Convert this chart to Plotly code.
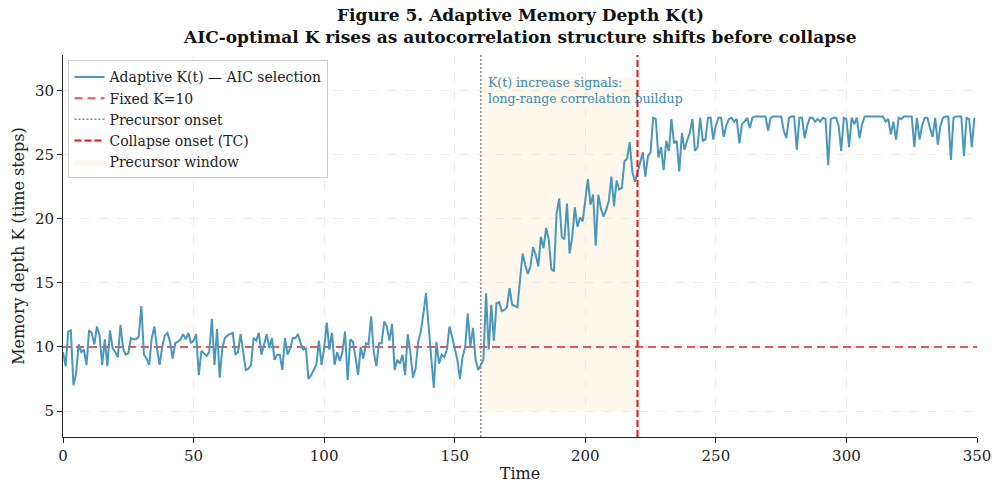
import plotly.graph_objects as go

# ---- data ----
k_part1 = [9.6, 8.5, 11.2, 11.3, 7.0, 7.9, 10.2, 9.6, 9.8, 8.6,
           11.3, 11.1, 10.2, 11.6, 10.9, 8.6, 10.6, 8.5, 11.3, 9.9,
           9.6, 9.2, 11.7, 9.9, 9.4, 9.5, 10.7, 10.6, 10.6, 10.8,
           13.2, 9.4, 9.1, 8.6, 10.7, 11.6, 9.9, 8.6, 10.0, 10.9,
           11.1, 10.4, 9.1, 10.3, 10.4, 10.6, 11.0, 10.6, 11.1, 10.3,
           10.5, 11.0, 7.8, 9.7, 9.5, 9.3, 9.6, 12.2, 8.6, 11.4,
           7.6, 9.9, 10.7, 10.9, 11.0, 11.1, 9.4, 9.6, 11.0, 9.7]
k_part2 = [8.2, 8.3, 8.6, 10.7, 10.5, 11.1, 9.4, 10.2, 11.0, 9.9,
           10.7, 9.0, 9.4, 9.4, 8.2, 10.7, 9.4, 9.9, 10.7, 10.7,
           11.0, 10.3, 9.8, 9.9, 7.5, 7.8, 8.2, 8.6, 10.5, 8.6,
           9.9, 11.9, 9.8, 11.1, 8.6, 9.6, 8.9, 9.6, 11.2, 7.4,
           10.6, 10.4, 9.2, 7.8, 10.0, 9.1, 10.3, 10.2, 12.4, 9.6,
           8.5, 10.3, 10.3, 12.0, 11.6, 10.5, 11.8, 8.2, 9.0, 8.7,
           9.4, 7.8, 11.0, 9.6, 7.6, 8.3, 10.4, 11.2, 12.6, 14.2]
k_part3 = [11.6, 9.0, 6.8, 10.4, 8.7, 9.4, 9.2, 9.8, 11.6, 10.8,
           10.0, 9.0, 7.5, 9.2, 10.0, 12.6, 10.0, 11.5, 9.0, 8.2,
           8.6, 9.0, 14.2, 9.8, 13.3, 10.5, 13.4, 13.5, 12.8, 12.9,
           13.1, 14.6, 13.3, 13.2, 13.1, 15.2, 17.3, 16.4, 15.7, 16.3,
           17.8, 17.2, 16.3, 18.6, 17.7, 19.3, 18.4, 16.1, 15.9, 20.4,
           21.6, 18.6, 18.4, 21.2, 17.3, 18.6, 20.9, 19.4, 20.1, 19.8,
           21.6, 23.1, 21.1, 21.9, 17.9, 21.9, 20.8, 20.2, 20.7, 21.4]
k_part4 = [23.3, 21.0, 23.0, 22.3, 22.4, 24.5, 24.7, 26.0, 23.7, 22.9,
           23.6, 24.5, 25.2, 23.3, 24.9, 25.2, 27.9, 27.8, 24.8, 25.6,
           23.8, 26.1, 25.3, 27.8, 25.9, 26.1, 23.7, 26.7, 25.4, 26.1,
           26.7, 27.8, 25.3, 25.6, 27.9, 26.1, 26.2, 27.9, 27.9, 26.2,
           27.3, 27.9, 27.9, 26.4, 27.3, 27.8, 27.9, 27.6, 27.8, 25.9,
           27.4, 27.6, 27.9, 27.1, 27.9, 28.0, 28.0, 28.0, 28.0, 28.0,
           26.9, 27.9, 28.0, 28.0, 28.0, 28.0, 26.9, 26.3, 27.9, 28.0]
k_part5 = [28.0, 25.4, 27.9, 27.9, 26.3, 27.3, 27.9, 27.9, 27.6, 27.8,
           27.6, 27.9, 27.8, 24.2, 27.8, 27.9, 27.9, 27.3, 25.3, 27.9,
           27.8, 25.6, 27.9, 27.4, 27.9, 26.3, 27.4, 28.0, 28.0, 28.0,
           28.0, 28.0, 28.0, 28.0, 28.0, 27.6, 27.8, 26.6, 27.6, 26.2,
           27.9, 27.8, 28.0, 28.0, 28.0, 28.0, 25.6, 27.9, 26.2, 27.3,
           27.9, 27.9, 27.1, 26.4, 27.9, 25.8, 27.3, 27.9, 28.0, 28.0,
           24.6, 27.9, 28.0, 28.0, 28.0, 24.9, 27.9, 27.8, 25.6, 27.9]
k_adaptive = k_part1 + k_part2 + k_part3 + k_part4 + k_part5
time = list(range(len(k_adaptive)))

fixed_k = 10
precursor_onset = 160
collapse_onset = 220
window_y = [5, 31]
x_ticks = [0, 50, 100, 150, 200, 250, 300, 350]
y_ticks = [5, 10, 15, 20, 25, 30]

y_range = [2.97, 32.8]
x_range = [0, 350]

title_line1 = "Figure 5. Adaptive Memory Depth K(t)"
title_line2 = "AIC-optimal K rises as autocorrelation structure shifts before collapse"

FONT = "DejaVu Serif"

fig = go.Figure()

# precursor window
fig.add_trace(go.Scatter(
    x=[precursor_onset, collapse_onset, collapse_onset, precursor_onset, precursor_onset],
    y=[window_y[0], window_y[0], window_y[1], window_y[1], window_y[0]],
    fill="toself", fillcolor="rgba(250,228,185,0.29)", mode="lines",
    line=dict(width=0, color="rgba(0,0,0,0)"),
    name="Precursor window", legendrank=5, hoverinfo="skip"))

fig.add_trace(go.Scatter(
    x=x_range, y=[fixed_k, fixed_k], mode="lines",
    line=dict(color="rgba(230,57,60,0.85)", width=2, dash="8px,5px"),
    name="Fixed K=10", legendrank=2))

fig.add_trace(go.Scatter(
    x=time, y=k_adaptive, mode="lines",
    line=dict(color="#4a97bb", width=2),
    name="Adaptive K(t) — AIC selection", legendrank=1))

fig.add_trace(go.Scatter(
    x=[precursor_onset, precursor_onset], y=y_range, mode="lines",
    line=dict(color="#888888", width=1.5, dash="2px,2px"),
    name="Precursor onset", legendrank=3))

fig.add_trace(go.Scatter(
    x=[collapse_onset, collapse_onset], y=y_range, mode="lines",
    line=dict(color="#ee1111", width=2, dash="7px,3px"),
    name="Collapse onset (TC)", legendrank=4))

fig.add_annotation(
    x=precursor_onset + 2, y=31.4, xref="x", yref="y",
    text="K(t) increase signals:<br>long-range correlation buildup",
    showarrow=False, xanchor="left", yanchor="top", align="left",
    font=dict(family=FONT, size=12.5, color="#3a8bb0"))

# two-line title as paper annotations
fig.add_annotation(
    x=0.5, y=1.0, xref="paper", yref="paper", yshift=40,
    text="<b>" + title_line1 + "</b>", showarrow=False,
    xanchor="center", yanchor="middle",
    font=dict(family=FONT, size=17, color="#111111"))
fig.add_annotation(
    x=0.5, y=1.0, xref="paper", yref="paper", yshift=18,
    text="<b>" + title_line2 + "</b>", showarrow=False,
    xanchor="center", yanchor="middle",
    font=dict(family=FONT, size=17, color="#111111"))

fig.update_layout(
    width=992, height=483,
    margin=dict(l=63, r=15, t=55, b=46),
    paper_bgcolor="white", plot_bgcolor="white",
    font=dict(family=FONT, size=14, color="#222222"),
    showlegend=True,
    legend=dict(x=0.006, y=0.986, xanchor="left", yanchor="top",
                bgcolor="rgba(255,255,255,0.85)", bordercolor="#cccccc", borderwidth=1,
                font=dict(family=FONT, size=14, color="#222222"),
                traceorder="normal", tracegroupgap=0, itemwidth=30),
)

fig.update_xaxes(
    range=x_range, tickvals=x_ticks, ticks="outside", ticklen=5, tickwidth=1,
    tickcolor="#222222", showline=True, linecolor="#222222", linewidth=1,
    showgrid=True, gridcolor="#ececec", griddash="dash", gridwidth=1,
    zeroline=False, automargin=False,
    title=dict(text="Time", font=dict(size=16), standoff=4),
    tickfont=dict(size=15))
fig.update_yaxes(
    range=y_range, tickvals=y_ticks, ticks="outside", ticklen=5, tickwidth=1,
    tickcolor="#222222", showline=True, linecolor="#222222", linewidth=1,
    showgrid=True, gridcolor="#ececec", griddash="dash", gridwidth=1,
    zeroline=False, automargin=False,
    title=dict(text="Memory depth K (time steps)", font=dict(size=16), standoff=6),
    tickfont=dict(size=15))

fig.write_html("out.html")
